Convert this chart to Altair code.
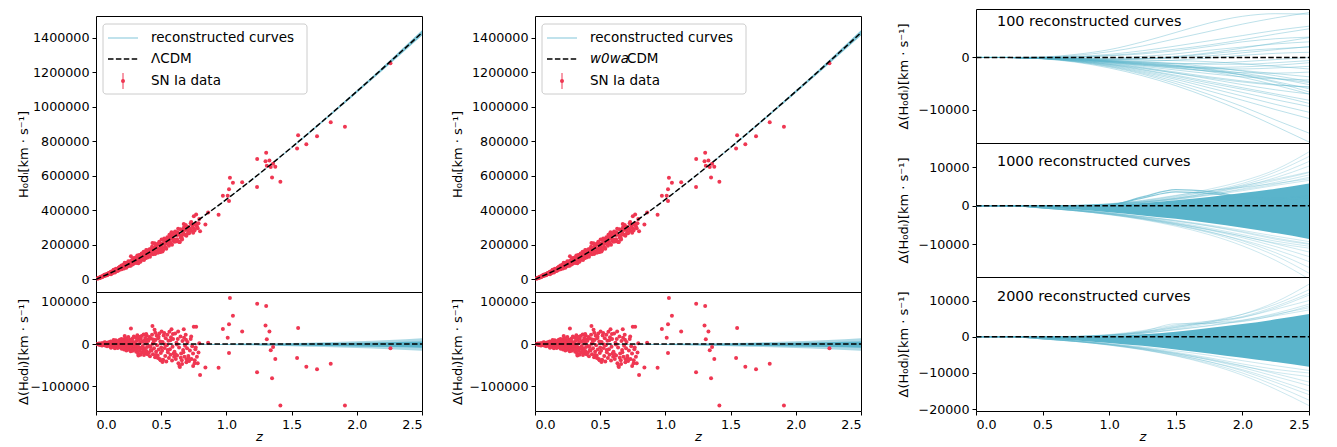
import altair as alt
import numpy as np
import pandas as pd

RED = "#ef3752"
BLUE = "#5ab4cb"
LEGEND_BLUE = "#abd9e6"
FONT = "DejaVu Sans"

# ---------------- model curves (H0 dL, km/s) ----------------
z_grid = [0.0, 0.125, 0.25, 0.375, 0.5, 0.625, 0.75, 0.875, 1.0, 1.125, 1.25,
          1.375, 1.5, 1.625, 1.75, 1.875, 2.0, 2.125, 2.25, 2.375, 2.5]
lcdm_dl = [0, 40900, 88200, 140900, 198300, 259700, 324500, 392300, 462600, 535200, 609700,
           686000, 763900, 843100, 923700, 1005400, 1088100, 1171800, 1256500, 1342000, 1428200]
w0wa_dl = [0, 40900, 88200, 140900, 198300, 259700, 324500, 392300, 462600, 535200, 609700,
           686000, 763900, 843100, 923700, 1005400, 1088100, 1171800, 1256500, 1342000, 1428200]

# grid of the reconstructed-curve residuals
curve_z = [0.0, 0.25, 0.5, 0.75, 1.0, 1.25, 1.5, 1.75, 2.0, 2.25, 2.5]

# envelope of reconstructed curves in the left / middle residual panels
res_band_hi = [0, 0, 0, 100, 500, 1300, 2600, 4300, 6500, 9800, 14000]
res_band_lo = [0, 0, -500, -1200, -2100, -3300, -4900, -6900, -9400, -12400, -15500]
res_core_hi = [0, 0, 0, 0, 250, 700, 1400, 2300, 3300, 4600, 6000]
res_core_lo = [0, 0, -450, -1000, -1700, -2500, -3400, -4500, -5700, -7000, -8400]

# ---------------- right column: 100 reconstructed curves ----------------
p1_curves = [
    [0, 0, 100, 600, 1500, 3000, 4800, 6600, 7900, 8400, 8300],
    [0, 0, 50, 400, 1100, 2200, 3600, 5000, 6400, 7600, 8600],
    [0, 0, 0, 200, 600, 1300, 2200, 3200, 4200, 5200, 6000],
    [0, 0, 0, 100, 300, 700, 1300, 2100, 3000, 3600, 3900],
    [0, 0, -50, -100, -100, 200, 700, 1400, 2000, 2600, 3000],
    [0, 0, -50, -200, -400, -300, 100, 700, 1300, 1700, 2000],
    [0, 0, -100, -300, -600, -700, -500, -100, 400, 800, 1000],
    [0, 0, -100, -300, -700, -1000, -1200, -1100, -800, -400, 0],
    [0, 0, -100, -400, -800, -1300, -1700, -1900, -1800, -1500, -1000],
    [0, 0, -100, -400, -900, -1500, -2100, -2600, -2900, -3000, -2800],
    [0, 0, -150, -500, -1000, -1700, -2400, -3100, -3700, -4100, -4300],
    [0, 0, -150, -500, -1100, -1900, -2800, -3700, -4500, -5200, -5700],
    [0, 0, -150, -600, -1200, -2000, -3000, -4100, -5200, -6200, -7000],
    [0, 0, -200, -600, -1300, -2300, -3400, -4600, -5800, -7000, -8200],
    [0, 0, -200, -700, -1500, -2600, -3900, -5300, -6700, -8100, -9400],
    [0, 0, -200, -700, -1600, -2800, -4200, -5800, -7400, -9000, -10500],
    [0, 0, -200, -800, -1700, -3000, -4600, -6400, -8200, -10000, -11700],
    [0, 0, -250, -800, -1800, -3200, -5000, -7100, -9400, -12000, -14500],
    [0, 0, -250, -900, -2000, -3500, -5400, -7700, -10300, -13200, -16200],
    [0, 0, -100, -300, -500, -800, -1200, -1800, -2600, -3500, -4600],
    [0, 0, -100, -300, -700, -1100, -1500, -2000, -2500, -3100, -3700],
    [0, 0, -100, -200, -400, -500, -600, -800, -1200, -1700, -2200],
    [0, 0, -50, -200, -300, -200, 200, 900, 1800, 2800, 3800],
    [0, 0, -150, -400, -800, -1200, -1600, -2300, -3300, -4600, -6000],
    [0, 0, -150, -500, -1000, -1500, -2000, -2600, -3300, -4000, -4800],
    [0, 0, 0, 100, 400, 900, 1600, 2400, 3400, 4500, 5500],
    [0, 0, -100, -300, -600, -1000, -1500, -2200, -3000, -4000, -5200],
    [0, 0, -100, -400, -800, -1300, -1900, -2700, -3800, -5300, -7000],
    [0, 0, -50, -300, -600, -900, -1100, -1300, -1300, -1000, -600],
    [0, 0, -200, -600, -1300, -2100, -3000, -3900, -4700, -5300, -5600],
    [0, 0, -150, -450, -900, -1400, -1800, -2100, -2200, -2000, -1700],
    [0, 0, -50, -150, -250, -250, -100, 300, 900, 1500, 2100],
    [0, 0, -200, -650, -1400, -2400, -3600, -4900, -6100, -7300, -8800],
    [0, 0, -100, -350, -750, -1200, -1700, -2400, -3400, -4800, -6600],
]

# ---------------- right column: 1000 reconstructed curves ----------------
p2_core_hi = [0, 0, 0, 0, 250, 700, 1400, 2300, 3300, 4400, 5800]
p2_core_lo = [0, 0, -450, -1000, -1700, -2500, -3400, -4500, -5700, -7100, -8600]
p2_curves = [
    [0, 0, 0, 100, 500, 1300, 2600, 4300, 6400, 9400, 14000],
    [0, 0, 0, 50, 400, 1100, 2200, 3800, 5800, 8800, 12800],
    [0, 0, 0, 100, 400, 1000, 2000, 3400, 5400, 8000, 11500],
    [0, 0, 0, 0, 300, 900, 1900, 3300, 5000, 7300, 10300],
    [0, 0, 0, 50, 400, 1200, 2400, 3800, 5200, 6900, 8800],
    [0, 0, 0, 0, 300, 800, 1700, 2900, 4400, 6100, 8000],
    [0, 0, 0, 100, 500, 1400, 2700, 3900, 4800, 5800, 7000],
    [0, 0, -50, 0, 300, 900, 1900, 3200, 4800, 6600, 8600],
    [0, 0, 0, 50, 350, 1000, 1800, 2900, 4200, 5600, 7400],
    [0, 0, 0, 0, 300, 800, 1600, 2700, 3900, 5300, 6600],
    [0, 0, -600, -1300, -2300, -3600, -5300, -7500, -10400, -14200, -19000],
    [0, 0, -600, -1300, -2200, -3400, -5000, -7000, -9600, -13000, -17500],
    [0, 0, -550, -1200, -2100, -3300, -4800, -6700, -9100, -12200, -16000],
    [0, 0, -600, -1300, -2300, -3500, -5000, -6800, -8900, -11400, -14500],
    [0, 0, -550, -1200, -2100, -3200, -4600, -6300, -8300, -10600, -13200],
    [0, 0, -500, -1100, -2000, -3100, -4500, -6100, -7900, -9900, -12000],
    [0, 0, -600, -1300, -2200, -3300, -4700, -6200, -7900, -9700, -11000],
    [0, 0, -550, -1200, -2000, -3000, -4300, -5800, -7500, -9200, -10500],
    [0, 0, -500, -1100, -1900, -2900, -4000, -5300, -6900, -8700, -10000],
    [0, 0, -500, -1000, -1800, -2800, -3900, -5200, -6700, -8400, -9800],
    [0, 0, -500, -1100, -1900, -2800, -3800, -5000, -6400, -7900, -9300],
]
p2_bump_curves = [
    [0, 0, -100, -200, 100, 2300, 4200, 3700, 2400, 2000, 2600],
    [0, 0, -100, -150, 200, 2000, 3600, 3200, 2200, 1800, 2000],
]

# ---------------- right column: 2000 reconstructed curves ----------------
p3_core_hi = [0, 0, 0, 0, 250, 700, 1400, 2400, 3500, 4800, 6300]
p3_core_lo = [0, 0, -450, -1000, -1700, -2500, -3500, -4600, -5800, -7000, -8300]
p3_curves = [
    [0, 0, 0, 50, 400, 1200, 2500, 4000, 6200, 9600, 14500],
    [0, 0, 0, 100, 500, 1400, 2800, 4300, 6200, 9000, 13000],
    [0, 0, 0, 50, 400, 1200, 2600, 4000, 5600, 8400, 12000],
    [0, 0, 0, 100, 600, 1700, 3300, 4300, 5400, 8000, 11500],
    [0, 0, 0, 0, 300, 1000, 2200, 3600, 5300, 7600, 10000],
    [0, 0, 0, 50, 400, 1300, 3000, 3800, 4600, 6500, 9000],
    [0, 0, 0, 100, 500, 1500, 3600, 3700, 4200, 6000, 8500],
    [0, 0, -50, 0, 300, 900, 2000, 3100, 4500, 6200, 8000],
    [0, 0, 0, 50, 350, 1000, 1900, 3000, 4300, 5800, 7400],
    [0, 0, -600, -1300, -2300, -3600, -5300, -7600, -10600, -14500, -19000],
    [0, 0, -600, -1300, -2200, -3500, -5200, -7300, -10000, -13500, -17500],
    [0, 0, -550, -1200, -2100, -3300, -4900, -6900, -9400, -12600, -16000],
    [0, 0, -600, -1300, -2300, -3500, -5000, -6900, -9100, -11900, -15000],
    [0, 0, -550, -1200, -2100, -3200, -4600, -6400, -8500, -11000, -13500],
    [0, 0, -500, -1100, -2000, -3100, -4500, -6100, -8000, -10200, -12500],
    [0, 0, -600, -1300, -2200, -3300, -4700, -6300, -8100, -9800, -11000],
    [0, 0, -550, -1200, -2000, -3000, -4300, -5800, -7500, -9000, -10000],
    [0, 0, -500, -1100, -1900, -2800, -3900, -5100, -6600, -8000, -9300],
]

# ---------------- SN Ia data: (z, residual w.r.t. the model in km/s) ----------------
sn_z_000_010 = [(0.012, 300), (0.015, -500), (0.018, 700), (0.021, -900), (0.024, 1200), (0.026, -300),
                (0.029, -1500), (0.031, 900), (0.034, 200), (0.037, -1800), (0.040, 1600), (0.043, -700),
                (0.046, 2200), (0.050, -2500), (0.053, 500), (0.056, -1300), (0.060, 2800), (0.063, -2100),
                (0.067, 1000), (0.070, -3300), (0.073, 3500), (0.077, -600), (0.080, -2800), (0.083, 1900),
                (0.086, -4000), (0.090, 2500), (0.093, -1500), (0.097, 4200), (0.100, -3000), (0.028, -1000),
                (0.045, -3500), (0.065, 4500), (0.075, 1500), (0.085, -5000), (0.095, 600)]
sn_z_010_020 = [(0.102, -2000), (0.105, 3500), (0.108, -5500), (0.110, 1200), (0.113, 6000), (0.116, -3800),
                (0.119, -700), (0.122, 4800), (0.125, -6500), (0.128, 2600), (0.131, -1500), (0.134, 7500),
                (0.137, -4500), (0.140, 500), (0.143, -8000), (0.146, 3200), (0.149, -2500), (0.152, 9000),
                (0.155, -6000), (0.158, 1800), (0.161, -3500), (0.164, 5500), (0.167, -9500), (0.170, 800),
                (0.173, 7000), (0.176, -4200), (0.179, -1000), (0.182, 10500), (0.185, -7500), (0.188, 2200),
                (0.191, -5200), (0.194, 4000), (0.197, -11000), (0.200, 6500), (0.115, -8500), (0.135, 9500),
                (0.155, -200), (0.175, -6800), (0.195, 12000), (0.145, -10000)]
sn_z_020_030 = [(0.203, 3000), (0.206, -7000), (0.209, 11000), (0.212, -1500), (0.215, -12500), (0.218, 6000),
                (0.221, -4000), (0.224, 14000), (0.227, -9000), (0.230, 1000), (0.233, -15000), (0.236, 8500),
                (0.239, -2500), (0.242, 4500), (0.245, -11000), (0.248, 16500), (0.251, -6000), (0.254, 2000),
                (0.257, -13500), (0.260, 10000), (0.263, -3500), (0.266, -17000), (0.269, 7000), (0.268, 37000),
                (0.275, -8000), (0.278, 12500), (0.281, -1000), (0.284, -14500), (0.287, 5000), (0.290, 18000),
                (0.293, -10500), (0.296, 1500), (0.299, -6500), (0.210, -9500), (0.230, 13000), (0.250, -5000),
                (0.270, 9000), (0.290, -12000), (0.220, 19000), (0.280, -16000)]
sn_z_030_040 = [(0.302, -4000), (0.305, 15000), (0.308, -18000), (0.311, 7000), (0.314, -11000), (0.317, 21000),
                (0.320, -2000), (0.323, -22000), (0.326, 10500), (0.329, -7500), (0.332, 17000), (0.335, -15500),
                (0.338, 3000), (0.341, -25000), (0.344, 12000), (0.347, -9000), (0.350, 19000), (0.353, -19500),
                (0.356, 5500), (0.359, -4500), (0.362, -13000), (0.365, 22500), (0.368, -26000), (0.371, 8000),
                (0.374, -10500), (0.377, 14500), (0.380, -21000), (0.383, 1500), (0.386, -16500), (0.389, 20000),
                (0.392, -7000), (0.395, -24000), (0.398, 11000), (0.310, -12000), (0.330, 16000), (0.350, -8500),
                (0.370, -18500), (0.390, 6500), (0.325, -27000), (0.385, 24000)]
sn_z_040_050 = [(0.402, 8000), (0.406, -20000), (0.410, 17000), (0.414, -29000), (0.418, -6000), (0.422, 13000),
                (0.426, -15000), (0.430, 22000), (0.433, 43000), (0.437, -24000), (0.441, 4000), (0.445, -10000),
                (0.449, 34000), (0.453, -31000), (0.457, 9500), (0.461, -18000), (0.465, 19500), (0.469, -2500),
                (0.473, -27000), (0.477, 14000), (0.481, -12500), (0.485, 25000), (0.489, -35000), (0.493, 6000),
                (0.497, -21000), (0.500, -8000), (0.420, -14000), (0.440, 11000), (0.460, -25500), (0.480, 17500),
                (0.495, -38000), (0.412, -4500), (0.455, 27000), (0.475, -33000), (0.435, 1000)]
sn_z_050_060 = [(0.503, 30000), (0.507, -16000), (0.511, 5000), (0.515, -37000), (0.519, 20000), (0.523, 26000),
                (0.527, -9000), (0.531, -28000), (0.535, 14000), (0.539, -41000), (0.543, -3000), (0.547, 22000),
                (0.551, -19000), (0.555, 8000), (0.559, -33000), (0.563, 29000), (0.567, -12000), (0.571, -25000),
                (0.575, 16000), (0.579, 35000), (0.583, -39000), (0.587, -6000), (0.591, 12000), (0.595, -22000),
                (0.599, -30000), (0.510, -42000), (0.530, -1000), (0.550, -14000), (0.570, 9000), (0.590, 24000)]
sn_z_060_070 = [(0.602, -18000), (0.607, 25000), (0.612, -35000), (0.617, 3000), (0.622, -27000), (0.627, 12000),
                (0.632, -45000), (0.637, -8000), (0.640, -52000), (0.643, -54000), (0.648, 18000), (0.653, -22000),
                (0.658, -38000), (0.663, 7000), (0.668, -14000), (0.673, 35000), (0.678, -30000), (0.683, -4000),
                (0.688, 22000), (0.693, -43000), (0.698, -10000), (0.610, -24000), (0.630, 30000), (0.650, -32000),
                (0.670, -19000), (0.690, 10000), (0.620, -1000), (0.660, -47000), (0.675, 15000), (0.695, -36000)]
sn_z_070_080 = [(0.702, 5000), (0.708, -28000), (0.714, -40000), (0.720, -15000), (0.726, 12000), (0.732, -35000),
                (0.738, -5000), (0.744, -22000), (0.750, 41000), (0.756, -45000), (0.762, -12000), (0.768, 41000),
                (0.774, -30000), (0.780, -45000), (0.786, -20000), (0.792, 2000), (0.798, -72900), (0.710, -33000),
                (0.730, 18000), (0.765, -8000), (0.745, -52000), (0.757, -38000)]
sn_high_z = [(0.839, -55000), (0.860, 3000), (0.940, -55800), (0.973, 35600), (1.010, 14700), (1.020, 47000),
             (1.020, -21000), (1.027, 109000), (1.050, 67000), (1.121, 29500), (1.235, -66700), (1.236, 95000),
             (1.300, 44000), (1.305, 90000), (1.310, 11600), (1.330, 29500), (1.340, -14700), (1.358, -7000),
             (1.350, -80700), (1.375, -35000), (1.414, -145000), (1.542, -32600), (1.550, 38000), (1.613, -53500),
             (1.695, -59700), (1.800, -46500), (1.909, -145000), (2.258, -10000)]

sn_all = (sn_z_000_010 + sn_z_010_020 + sn_z_020_030 + sn_z_030_040 + sn_z_040_050 +
          sn_z_050_060 + sn_z_060_070 + sn_z_070_080 + sn_high_z)
sn_df = pd.DataFrame(sn_all, columns=["z", "res"])
sn_df["dl_lcdm"] = np.interp(sn_df["z"], z_grid, lcdm_dl) + sn_df["res"]
sn_df["dl_w0wa"] = np.interp(sn_df["z"], z_grid, w0wa_dl) + sn_df["res"]

# ---------------- helpers ----------------
XSCALE = alt.Scale(domain=[0, 2.5], nice=False, zero=False)
X_AXIS = alt.Axis(values=[0, 0.5, 1.0, 1.5, 2.0, 2.5], format=".1f", title="z",
                  titleFontStyle="italic", titlePadding=0)
ONE = pd.DataFrame({"k": [0]})
DASH = [5.5, 2.4]


def curves_long(curves, tag):
    rows = []
    for i, vals in enumerate(curves):
        for z, v in zip(curve_z, vals):
            rows.append({"z": z, "v": v, "c": f"{tag}{i}"})
    return pd.DataFrame(rows)


def yaxis(values, title, tpad):
    return alt.Axis(values=values, format="d", title=title, minExtent=64, maxExtent=64,
                    titlePadding=tpad)


def legend_layers(model_parts):
    base = alt.Chart(ONE)
    out = [
        base.mark_rect(fill="white", fillOpacity=0.85, stroke="#cccccc", strokeWidth=1,
                       cornerRadius=3).encode(x=alt.value(7), x2=alt.value(211),
                                              y=alt.value(8), y2=alt.value(78)),
        base.mark_rule(color=LEGEND_BLUE, strokeWidth=1.5).encode(
            x=alt.value(12), x2=alt.value(42), y=alt.value(22)),
        base.mark_rule(color="black", strokeWidth=1.5, strokeDash=DASH).encode(
            x=alt.value(12), x2=alt.value(42), y=alt.value(43)),
        base.mark_rule(color=RED, strokeWidth=1).encode(
            x=alt.value(27), y=alt.value(57), y2=alt.value(73)),
        base.mark_circle(color=RED, size=16, opacity=1).encode(x=alt.value(27), y=alt.value(65)),
    ]
    items = [("reconstructed curves", "normal", 55, 22)]
    items += [(t, s, 55 + dx, 43) for (t, s, dx) in model_parts]
    items += [("SN Ia data", "normal", 55, 65)]
    for text, style, x, y in items:
        out.append(base.mark_text(align="left", baseline="middle", font=FONT, fontSize=13.5,
                                  fontStyle=style, color="black").encode(
            x=alt.value(x), y=alt.value(y), text=alt.value(text)))
    return out


def top_panel(model_dl, dlcol, model_parts, tpad):
    yscale = alt.Scale(domain=[-74000, 1525000], nice=False, zero=False)
    ax = yaxis([0, 200000, 400000, 600000, 800000, 1000000, 1200000, 1400000],
               "H₀dₗ[km · s⁻¹]", tpad)
    m_at = np.interp(curve_z, z_grid, model_dl)
    band_df = pd.DataFrame({"z": curve_z, "lo": m_at + np.array(res_band_lo),
                            "hi": m_at + np.array(res_band_hi)})
    model_df = pd.DataFrame({"z": z_grid, "dl": model_dl})
    x = alt.X("z:Q", scale=XSCALE, axis=None)
    band = alt.Chart(band_df).mark_area(color=BLUE, opacity=0.8, interpolate="monotone", clip=True).encode(
        x=x, y=alt.Y("lo:Q", scale=yscale, axis=ax), y2="hi:Q")
    pts = alt.Chart(sn_df).mark_circle(color=RED, size=16, opacity=1, clip=True).encode(
        x=x, y=alt.Y(f"{dlcol}:Q", scale=yscale, axis=ax))
    line = alt.Chart(model_df).mark_line(color="black", strokeDash=DASH, strokeWidth=1.5,
                                         interpolate="monotone", clip=True).encode(
        x=x, y=alt.Y("dl:Q", scale=yscale, axis=ax))
    return alt.layer(band, pts, line, *legend_layers(model_parts)).properties(width=326, height=276)


def bottom_panel(tpad):
    yscale = alt.Scale(domain=[-158000, 123000], nice=False, zero=False)
    ax = yaxis([-100000, 0, 100000], "Δ(H₀dₗ)[km · s⁻¹]", tpad)
    x = alt.X("z:Q", scale=XSCALE, axis=X_AXIS)
    band_df = pd.DataFrame({"z": curve_z, "lo": res_band_lo, "hi": res_band_hi,
                            "clo": res_core_lo, "chi": res_core_hi})
    zero_df = pd.DataFrame({"z": [0.0, 2.5], "v": [0, 0]})
    outer = alt.Chart(band_df).mark_area(color=BLUE, opacity=0.5, interpolate="monotone", clip=True).encode(
        x=x, y=alt.Y("lo:Q", scale=yscale, axis=ax), y2="hi:Q")
    inner = alt.Chart(band_df).mark_area(color=BLUE, opacity=1, interpolate="monotone", clip=True).encode(
        x=x, y=alt.Y("clo:Q", scale=yscale, axis=ax), y2="chi:Q")
    pts = alt.Chart(sn_df).mark_circle(color=RED, size=16, opacity=1, clip=True).encode(
        x=x, y=alt.Y("res:Q", scale=yscale, axis=ax))
    zero = alt.Chart(zero_df).mark_line(color="black", strokeDash=DASH, strokeWidth=1.5).encode(
        x=x, y=alt.Y("v:Q", scale=yscale, axis=ax))
    return alt.layer(outer, inner, pts, zero).properties(width=326, height=119)


def right_panel(curves, core_hi, core_lo, extra, domain, values, label, label_y, show_x, line_op):
    yscale = alt.Scale(domain=domain, nice=False, zero=False)
    ax = yaxis(values, "Δ(H₀dₗ)[km · s⁻¹]", 2)
    x = alt.X("z:Q", scale=XSCALE, axis=X_AXIS if show_x else None)
    y = alt.Y("v:Q", scale=yscale, axis=ax)
    layers = []
    if core_hi is not None:
        core_df = pd.DataFrame({"z": curve_z, "lo": core_lo, "hi": core_hi})
        layers.append(alt.Chart(core_df).mark_area(color=BLUE, opacity=1, interpolate="monotone",
                                                   clip=True).encode(
            x=x, y=alt.Y("lo:Q", scale=yscale, axis=ax), y2="hi:Q"))
    layers.append(alt.Chart(curves_long(curves, "c")).mark_line(
        color=BLUE, strokeWidth=1, opacity=line_op, interpolate="monotone", clip=True).encode(
        x=x, y=y, detail="c:N"))
    if extra:
        layers.append(alt.Chart(curves_long(extra, "b")).mark_line(
            color=BLUE, strokeWidth=1.2, opacity=0.7, interpolate="monotone", clip=True).encode(
            x=x, y=y, detail="c:N"))
    zero_df = pd.DataFrame({"z": [0.0, 2.5], "v": [0, 0]})
    layers.append(alt.Chart(zero_df).mark_line(color="black", strokeDash=DASH, strokeWidth=1.5).encode(
        x=x, y=y))
    layers.append(alt.Chart(ONE).mark_text(align="left", baseline="middle", font=FONT, fontSize=14.4,
                                           color="black").encode(
        x=alt.value(21), y=alt.value(label_y), text=alt.value(label)))
    return alt.layer(*layers).properties(width=333, height=134)


def spacer():
    return alt.Chart(ONE).mark_point(opacity=0, size=1).encode(
        x=alt.value(5), y=alt.value(4)).properties(
        width=326, height=7, view=alt.ViewBackground(stroke="transparent"))


left = alt.vconcat(
    spacer(),
    top_panel(lcdm_dl, "dl_lcdm", [("ΛCDM", "normal", 0)], 2),
    bottom_panel(2),
    spacing=0, bounds="flush")

middle = alt.vconcat(
    spacer(),
    top_panel(w0wa_dl, "dl_w0wa", [("w0wa", "italic", 0), ("CDM", "normal", 37)], 7),
    bottom_panel(7),
    spacing=0, bounds="flush")

right = alt.vconcat(
    right_panel(p1_curves, None, None, None, [-16400, 9300], [-10000, 0],
                "100 reconstructed curves", 13, False, 0.4),
    right_panel(p2_curves, p2_core_hi, p2_core_lo, p2_bump_curves, [-18500, 16300],
                [-10000, 0, 10000], "1000 reconstructed curves", 19, False, 0.3),
    right_panel(p3_curves, p3_core_hi, p3_core_lo, None, [-20500, 16500],
                [-20000, -10000, 0, 10000], "2000 reconstructed curves", 20, True, 0.3),
    spacing=0, bounds="flush")

chart = alt.hconcat(alt.hconcat(left, middle, spacing=24), right, spacing=31).properties(
    padding={"left": 8, "top": 0, "right": 5, "bottom": 0}
).configure_axis(
    labelFont=FONT, titleFont=FONT, labelFontSize=12.7, titleFontSize=13, titleFontWeight="normal",
    tickSize=4, tickColor="black", tickWidth=1, labelColor="black", titleColor="black",
    domain=False, grid=False, labelPadding=3
).configure_view(stroke="black", strokeWidth=1)

chart.save("out.html", embed_options={"renderer": "svg", "actions": False})
